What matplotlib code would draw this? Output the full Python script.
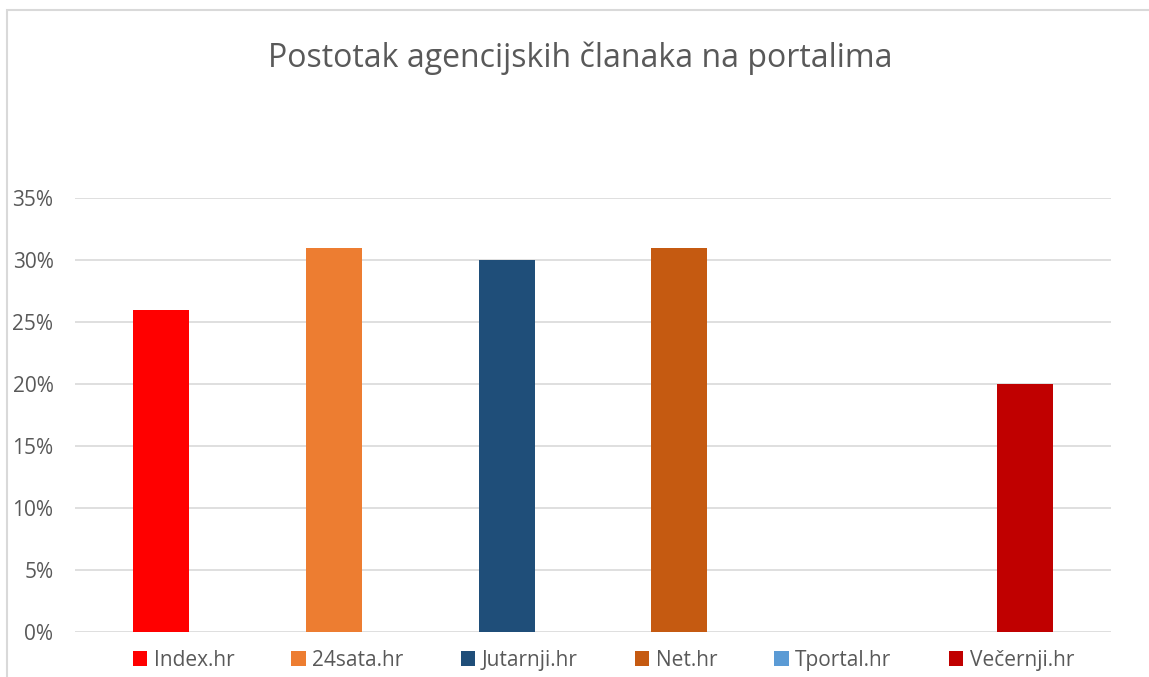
import matplotlib.pyplot as plt
from matplotlib.patches import Rectangle
from matplotlib.ticker import FuncFormatter

plt.rcParams['font.family'] = ['Open Sans', 'DejaVu Sans']

portals = ['Index.hr', '24sata.hr', 'Jutarnji.hr', 'Net.hr', 'Tportal.hr', 'Večernji.hr']
shares = [26, 31, 30, 31, 0, 20]
colors = ['#FF0000', '#ED7D31', '#1F4E79', '#C55A11', '#5B9BD5', '#C00000']
yticks = [0, 5, 10, 15, 20, 25, 30, 35]

fig = plt.figure(figsize=(11.49, 6.77), dpi=100)
ax = fig.add_axes([75 / 1149, 1 - 632 / 677, (1111 - 75) / 1149, (632 - 198) / 677])

for i, (name, val, c) in enumerate(zip(portals, shares, colors)):
    ax.bar(i, val, width=0.325, color=c, label=name, zorder=3)

ax.set_xlim(-0.5, len(portals) - 0.5)
ax.set_ylim(0, 35)
ax.set_yticks(yticks)
ax.yaxis.set_major_formatter(FuncFormatter(lambda v, p: '%d%%' % v))
ax.set_xticks([])
ax.grid(axis='y', color='#D9D9D9', linewidth=1.2, zorder=0)
for s in ax.spines.values():
    s.set_visible(False)
ax.tick_params(axis='y', length=0, labelsize=15, labelcolor='#595959', pad=15.5)

fig.text(0.505, 1 - 58 / 677, 'Postotak agencijskih članaka na portalima',
         ha='center', va='center', fontsize=23, color='#595959')

leg = ax.legend(loc='center', bbox_to_anchor=(0.51, -0.065), ncol=6, frameon=False,
                fontsize=15, labelcolor='#595959', handlelength=0.7, handleheight=0.7,
                handletextpad=0.3, columnspacing=2.75)

# chart border
fig.patches.append(Rectangle((7 / 1149, -0.1), 1.2, 1 - 10 / 677 + 0.1, transform=fig.transFigure,
                             fill=False, edgecolor='#D9D9D9', linewidth=1.5))

fig.savefig('out.png', dpi=100)
